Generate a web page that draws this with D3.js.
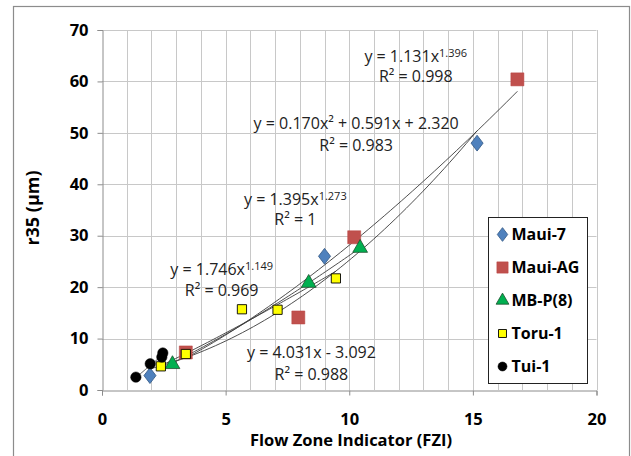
<!DOCTYPE html>
<html>
<head>
<meta charset="utf-8">
<script src="https://cdn.jsdelivr.net/npm/d3@7"></script>
<style>
  body { margin: 0; background: #fff; }
  text { font-family: "Open Sans", "Liberation Sans", sans-serif; }
</style>
</head>
<body>
<div id="chart"></div>
<script>
// series data
const seriesNames = ["Maui-7", "Maui-AG", "MB-P(8)", "Toru-1", "Tui-1"];
const maui7 = [[1.94, 2.8], [9.0, 26.0], [15.17, 48.0]];
const mauiAG = [[3.39, 7.3], [7.94, 14.1], [10.2, 29.7], [16.8, 60.4]];
const mbp8 = [[2.85, 5.0], [8.36, 20.8], [10.44, 27.6]];
const toru1 = [[2.38, 4.6], [3.39, 7.0], [5.66, 15.7], [7.1, 15.6], [9.46, 21.7]];
const tui1 = [[1.37, 2.5], [1.95, 5.1], [2.42, 6.4], [2.46, 7.2]];

// trendline equations shown on the chart
const fitTypes = ["poly2", "power", "power", "power", "linear"];
const fitCoefs = [[0.170, 0.591, 2.320], [1.131, 1.396], [1.395, 1.273], [1.746, 1.149], [4.031, -3.092]];

const xTicks = [0, 5, 10, 15, 20];
const yTicks = [0, 10, 20, 30, 40, 50, 60, 70];

const width = 631, height = 456;
const margin = { top: 30, right: 34, bottom: 66, left: 102 };

const svg = d3.select("#chart").append("svg")
  .attr("width", width)
  .attr("height", height);

// outer chart frame
svg.append("rect")
  .attr("x", 13.5).attr("y", 6.5)
  .attr("width", 616).attr("height", 470)
  .attr("fill", "#fff")
  .attr("stroke", "#8c8c8c")
  .attr("stroke-width", 1.2);

const xscale = d3.scaleLinear().domain([0, 20]).range([margin.left, width - margin.right - 0.5]);
const yscale = d3.scaleLinear().domain([0, 70]).range([height - margin.bottom, margin.top]);

// vertical grid every unit
svg.append("g")
  .selectAll("line")
  .data(d3.range(1, 21))
  .enter().append("line")
  .attr("x1", d => Math.round(xscale(d)) + 0.5)
  .attr("x2", d => Math.round(xscale(d)) + 0.5)
  .attr("y1", yscale(0))
  .attr("y2", yscale(70))
  .attr("stroke", "#c8c8c8");

// horizontal grid
svg.append("g")
  .selectAll("line")
  .data(yTicks.slice(1))
  .enter().append("line")
  .attr("x1", xscale(0))
  .attr("x2", xscale(20))
  .attr("y1", d => Math.round(yscale(d)) + 0.5)
  .attr("y2", d => Math.round(yscale(d)) + 0.5)
  .attr("stroke", "#c8c8c8");

// axes
const xAxis = d3.axisBottom(xscale).tickValues(xTicks).tickSize(5).tickPadding(18);
const yAxis = d3.axisLeft(yscale).tickValues(yTicks).tickSize(5).tickPadding(9);

const gx = svg.append("g")
  .attr("transform", `translate(0,${Math.round(yscale(0)) + 0.5})`)
  .call(xAxis);
const gy = svg.append("g")
  .attr("transform", `translate(${Math.round(xscale(0)) + 0.5},0)`)
  .call(yAxis);

[gx, gy].forEach(g => {
  g.select(".domain").attr("stroke", "#8c8c8c");
  g.selectAll(".tick line").attr("stroke", "#8c8c8c");
  g.selectAll(".tick text")
    .attr("fill", "#000")
    .style("font-size", "16.5px")
    .style("font-weight", "bold")
    .style("font-family", "'Open Sans', sans-serif");
});

// axis labels
svg.append("text")
  .attr("x", 351).attr("y", 446)
  .attr("text-anchor", "middle")
  .style("font-size", "16.5px")
  .style("font-weight", "bold")
  .text("Flow Zone Indicator (FZI)");

svg.append("text")
  .attr("transform", "translate(39,208) rotate(-90)")
  .attr("text-anchor", "middle")
  .style("font-size", "18px")
  .style("font-weight", "bold")
  .text("r35 (µm)");

// trendlines
const allSeries = [maui7, mauiAG, mbp8, toru1, tui1];
function fitValue(type, c, x) {
  if (type === "poly2") return c[0] * x * x + c[1] * x + c[2];
  if (type === "power") return c[0] * Math.pow(x, c[1]);
  return c[0] * x + c[1];
}
const line = d3.line()
  .x(d => xscale(d[0]))
  .y(d => yscale(d[1]));

allSeries.forEach((s, i) => {
  const ext = d3.extent(s, d => d[0]);
  const pts = d3.range(0, 61).map(k => {
    const x = ext[0] + (ext[1] - ext[0]) * k / 60;
    return [x, fitValue(fitTypes[i], fitCoefs[i], x)];
  });
  svg.append("path")
    .datum(pts)
    .attr("d", line)
    .attr("fill", "none")
    .attr("stroke", "#3a3a3a")
    .attr("stroke-width", 0.9);
});

// markers
const markerStyles = [
  { shape: d3.symbolDiamond, size: 80, fill: "#4f81bd", stroke: "#385d8a", sw: 0.8 },
  { shape: d3.symbolSquare, size: 170, fill: "#c0504d", stroke: "#b84542", sw: 0.5 },
  { shape: d3.symbolTriangle, size: 95, fill: "#00b050", stroke: "#1f4f2f", sw: 0.8 },
  { shape: d3.symbolSquare, size: 85, fill: "#ffff00", stroke: "#000", sw: 0.9 },
  { shape: d3.symbolCircle, size: 85, fill: "#000", stroke: "#000", sw: 0.5 }
];

allSeries.forEach((s, i) => {
  const st = markerStyles[i];
  svg.append("g")
    .selectAll("path")
    .data(s)
    .enter().append("path")
    .attr("d", d3.symbol().type(st.shape).size(st.size))
    .attr("transform", d => `translate(${xscale(d[0])},${yscale(d[1])})` + (i === 0 ? " scale(1.25,0.95)" : ""))
    .attr("fill", st.fill)
    .attr("stroke", st.stroke)
    .attr("stroke-width", st.sw);
});

// equation labels (positions in data units)
const eqLabels = [
  { x: 12.69, y: 64.8, main: "y = 1.131x", sup: "1.396", r2: "R² = 0.998", ry: 60.9 },
  { x: 10.28, y: 51.9, main: "y = 0.170x² + 0.591x + 2.320", sup: "", r2: "R² = 0.983", ry: 47.6 },
  { x: 7.82, y: 37.1, main: "y = 1.395x", sup: "1.273", r2: "R² = 1", ry: 33.2 },
  { x: 4.84, y: 23.5, main: "y = 1.746x", sup: "1.149", r2: "R² = 0.969", ry: 19.3 },
  { x: 8.47, y: 7.3, main: "y = 4.031x - 3.092", sup: "", r2: "R² = 0.988", ry: 3.1 }
];

eqLabels.forEach(l => {
  const t = svg.append("text")
    .attr("x", xscale(l.x))
    .attr("y", yscale(l.y))
    .attr("dy", "0.35em")
    .attr("text-anchor", "middle")
    .attr("fill", "#222")
    .style("font-size", "16px");
  t.append("tspan").text(l.main);
  if (l.sup) {
    t.append("tspan")
      .attr("dy", "-0.45em")
      .style("font-size", "11px")
      .text(l.sup);
  }
  svg.append("text")
    .attr("x", xscale(l.x))
    .attr("y", yscale(l.ry))
    .attr("dy", "0.35em")
    .attr("text-anchor", "middle")
    .attr("fill", "#222")
    .style("font-size", "16px")
    .text(l.r2);
});

// legend
const legend = svg.append("g").attr("transform", "translate(488.5,217.5)");
legend.append("rect")
  .attr("width", 99).attr("height", 166)
  .attr("fill", "#fff")
  .attr("stroke", "#222")
  .attr("stroke-width", 1);

seriesNames.forEach((name, i) => {
  const st = markerStyles[i];
  const yy = 17 + i * 33;
  legend.append("path")
    .attr("d", d3.symbol().type(st.shape).size(st.size * 0.75))
    .attr("transform", `translate(14,${yy})` + (i === 0 ? " scale(1.25,0.95)" : ""))
    .attr("fill", st.fill)
    .attr("stroke", st.stroke)
    .attr("stroke-width", st.sw);
  legend.append("text")
    .attr("x", 23)
    .attr("y", yy)
    .attr("dy", "0.36em")
    .style("font-size", "16px")
    .style("font-weight", "bold")
    .text(name);
});
</script>
</body>
</html>
